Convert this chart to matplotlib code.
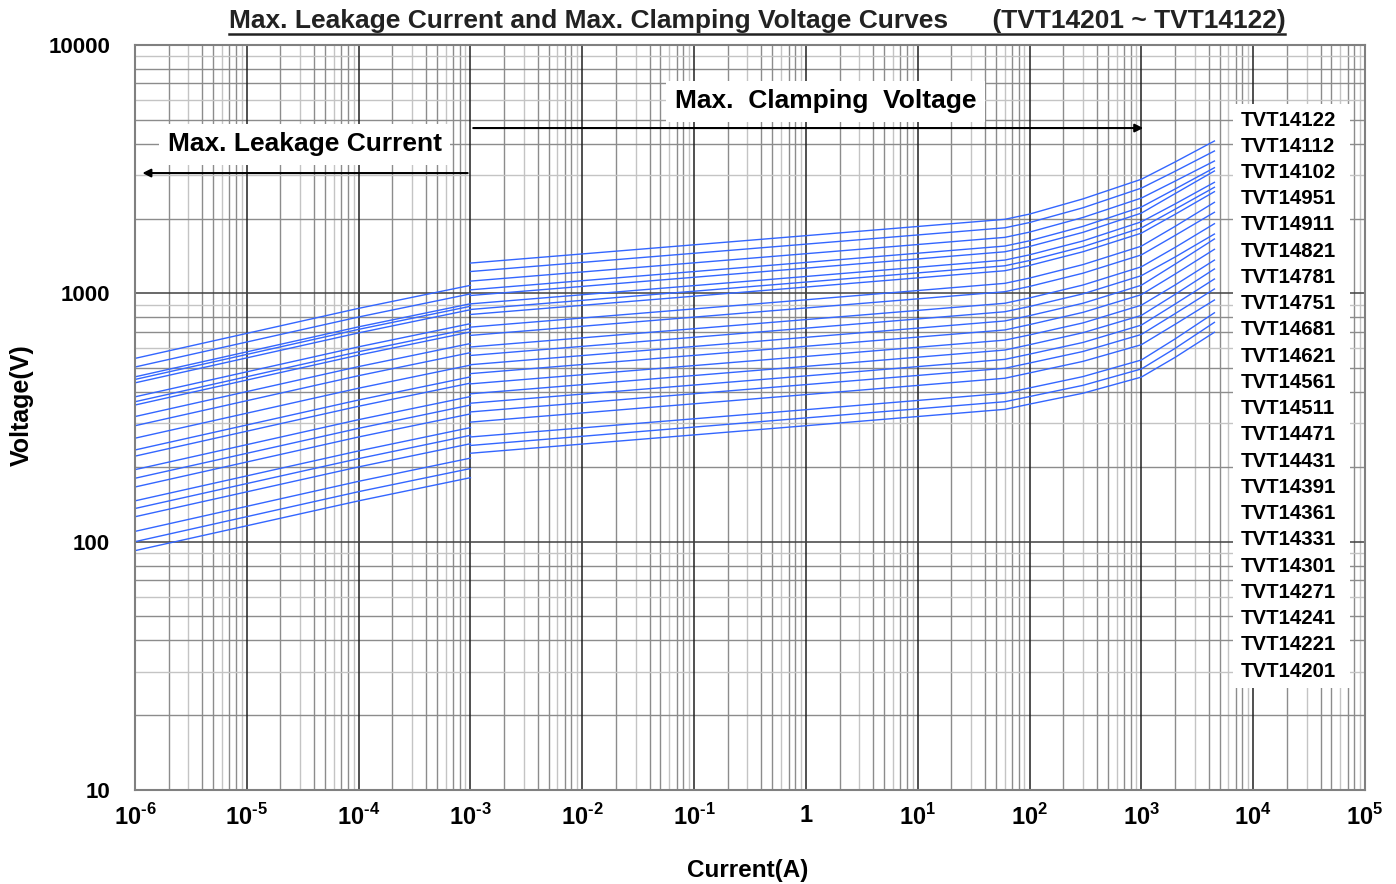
import numpy as np
import matplotlib
matplotlib.use("Agg")
import matplotlib.pyplot as plt
from matplotlib.lines import Line2D
from matplotlib.patches import Rectangle

plt.rcParams['font.family'] = ['Liberation Sans', 'DejaVu Sans']
plt.rcParams['font.weight'] = 'bold'
plt.rcParams['mathtext.fontset'] = 'custom'
plt.rcParams['mathtext.rm'] = 'Liberation Sans:bold'
plt.rcParams['mathtext.bf'] = 'Liberation Sans:bold'

# model names, top curve first
models = ['TVT14122', 'TVT14112', 'TVT14102', 'TVT14951', 'TVT14911', 'TVT14821',
          'TVT14781', 'TVT14751', 'TVT14681', 'TVT14621', 'TVT14561', 'TVT14511',
          'TVT14471', 'TVT14431', 'TVT14391', 'TVT14361', 'TVT14331', 'TVT14301',
          'TVT14271', 'TVT14241', 'TVT14221', 'TVT14201']

# leakage part: current (A) and voltage (V) per model
leak_i = [1e-6, 1e-4, 1e-3]
leak_v = [
    [547, 870, 1077], [505, 803, 995], [461, 733, 908], [450, 716, 887],
    [436, 693, 859], [383, 609, 755], [366, 582, 721], [355, 564, 699],
    [319, 507, 628], [293, 466, 577], [261, 415, 514], [234, 372, 461],
    [221, 351, 435], [195, 310, 384], [180, 286, 355], [166, 264, 327],
    [146, 232, 288], [136, 216, 268], [126, 200, 248], [110, 175, 217],
    [100, 159, 197], [92, 146, 181],
]

# clamping part
clamp_i = [1e-3, 1, 60, 100, 300, 1000, 2000, 4500]
clamp_v = [
    [1324, 1707, 1986, 2085, 2400, 2880, 3380, 4106],
    [1224, 1578, 1836, 1928, 2210, 2653, 3100, 3742],
    [1120, 1444, 1680, 1764, 2020, 2419, 2830, 3410],
    [1033, 1332, 1550, 1628, 1860, 2226, 2630, 3205],
    [980, 1263, 1470, 1544, 1760, 2104, 2520, 3109],
    [907, 1169, 1361, 1429, 1625, 1941, 2290, 2799],
    [861, 1110, 1291, 1356, 1540, 1835, 2180, 2673],
    [822, 1060, 1233, 1295, 1470, 1747, 2080, 2566],
    [731, 942, 1097, 1152, 1305, 1549, 1860, 2325],
    [677, 873, 1015, 1066, 1205, 1428, 1710, 2120],
    [608, 784, 912, 958, 1080, 1279, 1530, 1907],
    [562, 724, 843, 885, 995, 1178, 1400, 1733],
    [516, 665, 774, 813, 912, 1078, 1310, 1655],
    [475, 612, 712, 748, 838, 988, 1195, 1504],
    [432, 557, 648, 680, 760, 896, 1080, 1361],
    [394, 508, 591, 621, 694, 815, 990, 1253],
    [361, 465, 542, 569, 634, 745, 905, 1142],
    [333, 429, 499, 524, 583, 683, 828, 1041],
    [303, 391, 455, 478, 532, 621, 750, 940],
    [264, 340, 396, 416, 462, 539, 655, 835],
    [244, 315, 366, 384, 426, 496, 600, 764],
    [227, 293, 341, 358, 396, 460, 552, 697],
]

xtick_vals = [1e-6, 1e-5, 1e-4, 1e-3, 1e-2, 1e-1, 1, 1e1, 1e2, 1e3, 1e4, 1e5]
xtick_labels = ['$10^{\u20106}$', '$10^{\u20105}$', '$10^{\u20104}$', '$10^{\u20103}$',
                '$10^{\u20102}$', '$10^{\u20101}$',
                '1', '$10^{1}$', '$10^{2}$', '$10^{3}$', '$10^{4}$', '$10^{5}$']
ytick_vals = [10, 100, 1000, 10000]

fig = plt.figure(figsize=(13.96, 8.84), dpi=100)
ax = fig.add_axes([135 / 1396, 1 - 790 / 884, 1230 / 1396, 745 / 884])
ax.set_xscale('log')
ax.set_yscale('log')
ax.set_xlim(1e-6, 1e5)
ax.set_ylim(10, 10000)

# grid drawn by hand so the minor lines can have two shades
light = (3, 6, 9)
for d in range(-6, 5):
    for k in range(2, 10):
        ax.axvline(k * 10.0 ** d, color='#c4c4c4' if k in light else '#8c8c8c', lw=1, zorder=0)
for d in range(1, 4):
    for k in range(2, 10):
        ax.axhline(k * 10.0 ** d, color='#c4c4c4' if k in light else '#8c8c8c', lw=1, zorder=0)
for x in xtick_vals:
    ax.axvline(x, color='#202020', lw=1.1, zorder=0.5)
for y in ytick_vals:
    ax.axhline(y, color='#404040', lw=1.1, zorder=0.5)

for lv, cv in zip(leak_v, clamp_v):
    ax.plot(leak_i, lv, color='#3366ff', lw=1, zorder=2)
    ax.plot(clamp_i, cv, color='#3366ff', lw=1, zorder=2)

ax.set_xticks(xtick_vals)
ax.set_xticklabels(xtick_labels)
ax.set_yticks(ytick_vals)
ax.set_yticklabels(['10', '100', '1000', '10000'])
ax.minorticks_off()
ax.tick_params(axis='both', length=0)
ax.tick_params(axis='x', pad=10, labelsize=17)
ax.tick_params(axis='y', pad=18, labelsize=16)
for s in ax.spines.values():
    s.set_color('#808080')
    s.set_linewidth(1.5)

fig.text(748 / 1396, 1 - 870 / 884, 'Current(A)', fontsize=17.5, fontweight='bold',
         ha='center', va='center')
fig.text(22 / 1396, 1 - 405 / 884, 'Voltage(V)', fontsize=18, fontweight='bold',
         ha='center', va='center', rotation=90)

# annotations
ax.text(3.3e-5, 3990, 'Max. Leakage Current', fontsize=19, fontweight='bold',
        ha='center', va='center', zorder=4,
        bbox=dict(facecolor='white', edgecolor='none', pad=6))
ax.text(1.5, 5945, 'Max.  Clamping  Voltage', fontsize=19, fontweight='bold',
        ha='center', va='center', zorder=4,
        bbox=dict(facecolor='white', edgecolor='none', pad=6))
ax.annotate('', xy=(1.1e-6, 3050), xytext=(1e-3, 3050),
            arrowprops=dict(arrowstyle='-|>', color='black', lw=1.5, mutation_scale=12), zorder=5)
ax.annotate('', xy=(1100, 4630), xytext=(1e-3, 4630),
            arrowprops=dict(arrowstyle='-|>', color='black', lw=1.5, mutation_scale=12), zorder=5)

# label column for the curves
ax.add_patch(Rectangle((1098 / 1230, (790 - 688) / 745), 117 / 1230, 584 / 745,
                       transform=ax.transAxes, facecolor='white', edgecolor='none', zorder=3))
for i, name in enumerate(models):
    py = 120 + 26.24 * i
    ax.text(1106 / 1230, (790 - py) / 745, name, transform=ax.transAxes,
            fontsize=14.7, fontweight='bold', va='center', ha='left', zorder=4)

title = fig.text(757 / 1396, 1 - 21 / 884,
                 'Max. Leakage Current and Max. Clamping Voltage Curves      (TVT14201 ~ TVT14122)',
                 fontsize=19, fontweight='bold', ha='center', va='center', color='#222222')
fig.canvas.draw()
bb = title.get_window_extent()
fig.add_artist(Line2D([bb.x0 / 1396, bb.x1 / 1396], [(bb.y0 - 1) / 884, (bb.y0 - 1) / 884],
                      color='#222222', lw=1.8))

fig.savefig('out.png', dpi=100)
